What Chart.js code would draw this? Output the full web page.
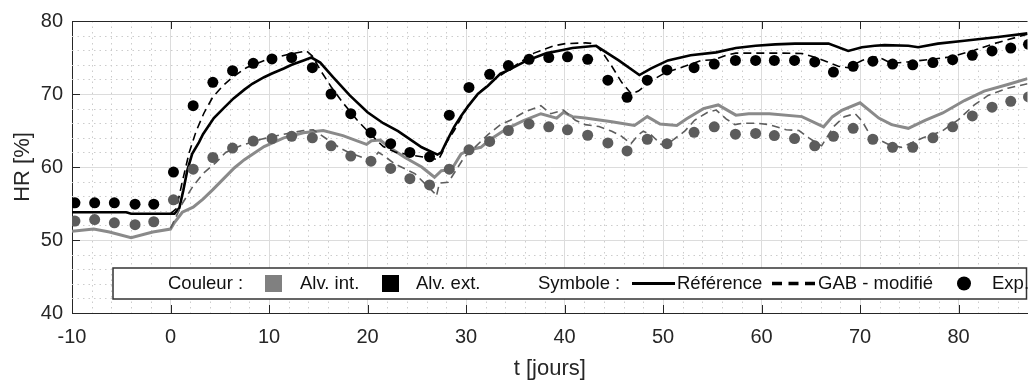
<!DOCTYPE html>
<html lang="fr">
<head>
<meta charset="utf-8">
<title>HR - alvéoles</title>
<script src="https://cdn.jsdelivr.net/npm/chart.js@4.4.0/dist/chart.umd.min.js"></script>
<style>
  html, body { margin: 0; padding: 0; background: #fff; overflow: hidden; }
  #graphe { display: block; }
</style>
</head>
<body>
<canvas id="graphe" width="1033" height="382"></canvas>
<script>
// ===================================================================
// Données (t en jours, HR en %)
// ===================================================================

// Axes
const xMin = -10, xMax = 87;
const yMin = 40, yMax = 80;
const xTicks = [-10, 0, 10, 20, 30, 40, 50, 60, 70, 80];
const yTicks = [40, 50, 60, 70, 80];

// Légende
const legendeCouleurs = ['Alv. int.', 'Alv. ext.'];
const legendeSymboles = ['Référence', 'GAB - modifié', 'Exp.'];

// Points expérimentaux (mêmes instants pour les deux alvéoles)
const tExp = [-9.7, -7.7, -5.7, -3.6, -1.7, 0.3, 2.3, 4.3, 6.3, 8.4,
    10.3, 12.3, 14.4, 16.3, 18.3, 20.35, 22.35, 24.3, 26.3, 28.3,
    30.3, 32.4, 34.3, 36.4, 38.4, 40.3, 42.35, 44.4, 46.35, 48.4,
    50.4, 53.15, 55.2, 57.35, 59.4, 61.3, 63.35, 65.4, 67.3, 69.3,
    71.3, 73.3, 75.35, 77.4, 79.4, 81.4, 83.4, 85.3, 87.1];
const hrExpExt = [55.1, 55.1, 55.1, 54.9, 54.9, 59.3, 68.4, 71.6, 73.2, 74.2,
    74.8, 75.0, 73.6, 70.0, 67.3, 64.7, 63.2, 62.0, 61.4, 67.1,
    70.9, 72.7, 73.9, 74.75, 75.0, 75.1, 74.75, 71.9, 69.55, 71.9,
    73.3, 73.6, 74.1, 74.6, 74.6, 74.6, 74.6, 74.4, 73.0, 73.8,
    74.5, 74.1, 74.0, 74.3, 74.7, 75.3, 75.9, 76.3, 76.8];
const hrExpInt = [52.6, 52.8, 52.35, 52.1, 52.5, 55.5, 59.7, 61.3, 62.6, 63.55,
    63.9, 64.2, 64.0, 62.9, 61.5, 60.8, 59.8, 58.4, 57.55, 59.7,
    62.35, 63.5, 65.0, 65.9, 65.5, 65.1, 64.35, 63.3, 62.2, 63.8,
    63.2, 64.75, 65.5, 64.5, 64.6, 64.3, 63.9, 62.9, 64.2, 65.3,
    63.8, 62.7, 62.7, 64.0, 65.5, 67.0, 68.2, 69.0, 69.6];

// Référence - alvéole extérieure
const tRefExt = [-10, -4.5, -4, 0.4, 0.9, 1.3, 1.7, 2.2, 2.9, 3.3,
    4.4, 5.5, 6.4, 7.5, 8.3, 9.5, 10.3, 11.5, 12.3, 13.5,
    14.3, 15.2, 16.5, 18.2, 20.0, 21.6, 23.1, 24.1, 25.5, 27.1,
    27.5, 28.0, 28.8, 29.5, 30.2, 31.2, 32.2, 33.5, 34.2, 36.2,
    38.2, 39.7, 40.8, 43.2, 45.5, 47.6, 48.8, 50.5, 52.8, 55.4,
    57.4, 59.4, 61.4, 63.4, 66.8, 68.8, 70.2, 71.5, 72.5, 74.9,
    75.9, 77.9, 80.6, 84.0, 87.0];
const hrRefExt = [53.8, 53.8, 53.6, 53.6, 54.4, 56.8, 59.5, 61.8, 63.4, 64.5,
    66.7, 68.2, 69.4, 70.6, 71.4, 72.3, 72.8, 73.5, 74.0, 74.6,
    75.0, 74.3, 72.3, 69.8, 67.5, 66.0, 64.9, 64.0, 62.7, 61.7,
    62.0, 63.4, 65.5, 67.0, 68.3, 70.0, 71.1, 72.8, 73.2, 74.6,
    75.6, 76.0, 76.3, 76.6, 74.6, 72.6, 73.5, 74.6, 75.3, 75.7,
    76.3, 76.6, 76.8, 76.9, 76.9, 75.9, 76.4, 76.6, 76.7, 76.6,
    76.4, 76.9, 77.3, 77.8, 78.3];

// GAB modifié - alvéole extérieure
const tGabExt = [0, 0.6, 1.2, 1.9, 2.6, 3.4, 4.3, 5.3, 6.3, 7.7,
    9.7, 11.9, 13.8, 14.4, 15.2, 16.3, 17.5, 18.9, 20.3, 21.6,
    22.9, 24.5, 26.5, 27.2, 27.6, 28.0, 28.8, 30.2, 31.5, 32.9,
    34.9, 36.9, 38.9, 40.1, 42.1, 43.0, 43.8, 44.8, 45.8, 46.8,
    47.5, 48.8, 50.2, 52.2, 53.9, 55.2, 56.4, 57.4, 62.1, 64.1,
    65.5, 66.7, 67.8, 68.8, 70.2, 71.5, 72.3, 73.2, 74.9, 76.9,
    79.3, 81.6, 83.6, 87.0];
const hrGabExt = [53.6, 54.3, 58.0, 62.0, 64.9, 67.4, 69.6, 71.1, 72.3, 73.6,
    74.7, 75.4, 75.9, 75.2, 73.3, 71.0, 68.8, 66.5, 64.5, 62.8,
    62.0, 61.6, 61.2, 61.0, 62.0, 63.3, 65.0, 68.4, 70.4, 72.0,
    73.8, 75.6, 76.6, 76.9, 77.0, 76.9, 75.8, 73.8, 71.6, 70.0,
    70.4, 71.8, 72.9, 73.8, 74.6, 74.7, 75.3, 75.6, 75.6, 75.55,
    75.0, 74.4, 73.8, 73.6, 74.6, 75.1, 74.8, 74.2, 74.4, 74.7,
    75.1, 76.0, 76.9, 78.2];

// Référence - alvéole intérieure
const tRefInt = [-10, -7.8, -6.2, -4, -1.8, 0, 0.4, 1.2, 2.3, 3.3,
    4.3, 5.4, 6.5, 7.5, 9.5, 11.5, 13.5, 15.5, 17.5, 19.9,
    20.4, 21.3, 22.1, 23.8, 25.5, 26.8, 27.5, 28.5, 29.5, 30.5,
    31.5, 32.5, 34.2, 35.9, 37.6, 39.2, 39.9, 40.8, 42.1, 44.8,
    47.1, 48.4, 49.7, 51.4, 52.4, 54.1, 55.6, 57.4, 58.7, 60.8,
    64.1, 66.3, 67.2, 68.2, 70.0, 71.9, 73.2, 74.9, 76.6, 78.4,
    80.6, 82.6, 85.0, 87.0];
const hrRefInt = [51.2, 51.5, 51.1, 50.3, 51.1, 51.5, 52.4, 53.8, 54.5, 55.6,
    56.9, 58.4, 59.9, 61.0, 62.8, 64.0, 64.7, 65.0, 64.3, 63.1,
    63.6, 63.7, 62.8, 61.3, 60.0, 58.6, 59.5, 59.6, 61.8, 62.4,
    62.7, 63.8, 65.3, 66.4, 67.3, 66.7, 67.5, 66.9, 66.7, 66.2,
    65.7, 66.9, 65.9, 65.7, 66.6, 68.0, 68.5, 67.1, 67.3, 67.3,
    66.9, 65.5, 66.9, 67.8, 68.8, 66.7, 65.8, 65.3, 66.4, 67.4,
    69.1, 70.4, 71.3, 72.1];

// GAB modifié - alvéole intérieure
const tGabInt = [0, 0.5, 1.2, 2.25, 3.3, 4.6, 5.6, 7.1, 9.2, 11.2,
    13.5, 14.5, 15.9, 17.2, 18.1, 19.5, 20.4, 21.1, 21.6, 22.8,
    24.8, 26.8, 27.0, 27.3, 28.2, 29.8, 31.2, 32.2, 33.5, 34.5,
    35.9, 37.6, 38.6, 39.9, 41.1, 42.1, 43.5, 44.8, 45.8, 46.75,
    47.5, 48.0, 48.8, 49.8, 50.3, 51.1, 52.2, 53.2, 54.6, 55.4,
    56.4, 57.3, 58.1, 59.4, 60.8, 62.5, 63.8, 64.8, 65.8, 66.1,
    66.6, 67.3, 68.4, 69.5, 70.2, 70.8, 71.5, 72.9, 74.2, 76.4,
    78.3, 80.0, 81.6, 83.0, 85.0, 87.0];
const hrGabInt = [51.6, 53.0, 55.0, 57.3, 59.1, 60.6, 62.0, 62.9, 63.8, 64.4,
    65.0, 65.1, 63.8, 62.6, 62.0, 61.3, 60.9, 62.0, 61.6, 60.4,
    59.1, 56.4, 56.0, 57.8, 57.9, 61.3, 63.1, 64.4, 65.8, 66.4,
    67.5, 68.4, 67.3, 67.8, 66.4, 65.8, 65.55, 64.9, 64.2, 63.2,
    64.4, 64.9, 64.4, 63.1, 62.9, 63.8, 64.9, 66.4, 67.55, 67.8,
    66.6, 65.8, 66.0, 66.0, 65.8, 65.1, 65.0, 64.0, 63.1, 62.9,
    64.0, 65.5, 66.9, 67.3, 66.3, 64.9, 64.0, 63.1, 62.7, 64.0,
    64.9, 66.5, 68.5, 69.8, 70.8, 71.4];

// Couleurs
const NOIR = '#000000';
const GRIS_LIGNE = '#8a8a8a';
const GRIS_TIRETS = '#5e5e5e';
const GRIS_POINTS = '#5c5c5c';
const GRIS_LEGENDE = '#808080';
const TEXTE = '#262626';
const POLICE = "'Liberation Sans', Arial, Helvetica, sans-serif";

const pts = (t, v) => t.map((x, i) => ({ x, y: v[i] }));

// Grille secondaire en pointillés (pas de 2)
const grilleMineure = {
    id: 'grilleMineure',
    beforeDatasetsDraw(chart) {
        const { ctx, chartArea: a, scales: { x, y } } = chart;
        ctx.save();
        ctx.strokeStyle = '#cccccc';
        ctx.lineWidth = 1;
        ctx.setLineDash([1.5, 4]);
        ctx.beginPath();
        for (let t = xMin + 2; t < xMax; t += 2) {
            if (t % 10 === 0) continue;
            const px = Math.round(x.getPixelForValue(t)) + 0.5;
            ctx.moveTo(px, a.top);
            ctx.lineTo(px, a.bottom);
        }
        for (let v = yMin + 2; v < yMax; v += 2) {
            if (v % 10 === 0) continue;
            const py = Math.round(y.getPixelForValue(v)) + 0.5;
            ctx.moveTo(a.left, py);
            ctx.lineTo(a.right, py);
        }
        ctx.stroke();
        ctx.restore();
    }
};

// Cadre du haut + graduations intérieures (style MATLAB)
const cadreAxes = {
    id: 'cadreAxes',
    afterDatasetsDraw(chart) {
        const { ctx, chartArea: a, scales: { x, y } } = chart;
        ctx.save();
        ctx.strokeStyle = TEXTE;
        ctx.lineWidth = 1;
        ctx.beginPath();
        ctx.moveTo(a.left, a.top + 0.5);
        ctx.lineTo(a.right, a.top + 0.5);
        xTicks.forEach(v => {
            const px = Math.round(x.getPixelForValue(v)) + 0.5;
            ctx.moveTo(px, a.top);
            ctx.lineTo(px, a.top + 8);
            ctx.moveTo(px, a.bottom);
            ctx.lineTo(px, a.bottom - 8);
        });
        yTicks.forEach(v => {
            const py = Math.round(y.getPixelForValue(v)) + 0.5;
            ctx.moveTo(a.left, py);
            ctx.lineTo(a.left + 8, py);
        });
        ctx.stroke();
        ctx.restore();
    }
};

// Légende encadrée en bas du graphique
const legendeCadre = {
    id: 'legendeCadre',
    afterDatasetsDraw(chart) {
        const { ctx, chartArea: a } = chart;
        const x0 = a.left + 41;
        const y0 = a.bottom - 45;
        const w = a.right - 1 - x0;
        const h = 31;
        const cy = y0 + h / 2;

        ctx.save();
        ctx.fillStyle = '#ffffff';
        ctx.fillRect(x0, y0, w, h);
        ctx.strokeStyle = '#333333';
        ctx.lineWidth = 1.5;
        ctx.strokeRect(x0, y0, w, h);

        ctx.font = '18.5px ' + POLICE;
        ctx.textBaseline = 'middle';
        ctx.fillStyle = '#111111';
        ctx.fillText('Couleur :', x0 + 55, cy);

        ctx.fillStyle = GRIS_LEGENDE;
        ctx.fillRect(x0 + 152, cy - 8.5, 17, 17);
        ctx.fillStyle = '#111111';
        ctx.fillText(legendeCouleurs[0], x0 + 187, cy);

        ctx.fillStyle = NOIR;
        ctx.fillRect(x0 + 269, cy - 8.5, 17, 17);
        ctx.fillStyle = '#111111';
        ctx.fillText(legendeCouleurs[1], x0 + 303, cy);

        ctx.fillText('Symbole :', x0 + 425, cy);

        ctx.strokeStyle = NOIR;
        ctx.lineWidth = 3;
        ctx.beginPath();
        ctx.moveTo(x0 + 519, cy);
        ctx.lineTo(x0 + 562, cy);
        ctx.stroke();
        ctx.fillText(legendeSymboles[0], x0 + 564, cy);

        ctx.lineWidth = 3.5;
        ctx.setLineDash([10, 6.5]);
        ctx.beginPath();
        ctx.moveTo(x0 + 659, cy);
        ctx.lineTo(x0 + 702, cy);
        ctx.stroke();
        ctx.setLineDash([]);
        ctx.fillText(legendeSymboles[1], x0 + 705, cy);

        ctx.fillStyle = NOIR;
        ctx.beginPath();
        ctx.arc(x0 + 851, cy, 7, 0, Math.PI * 2);
        ctx.fill();
        ctx.fillStyle = '#111111';
        ctx.fillText(legendeSymboles[2], x0 + 879, cy);
        ctx.restore();
    }
};

function initGraphe() {
    Chart.defaults.font.family = POLICE;
    Chart.defaults.color = TEXTE;

    const ctx = document.getElementById('graphe').getContext('2d');
    new Chart(ctx, {
        type: 'scatter',
        data: {
            datasets: [
                { // Exp. - alvéole extérieure
                    label: 'Exp. ext.',
                    data: pts(tExp, hrExpExt),
                    backgroundColor: NOIR,
                    borderWidth: 0,
                    pointRadius: 5.5
                },
                { // Exp. - alvéole intérieure
                    label: 'Exp. int.',
                    data: pts(tExp, hrExpInt),
                    backgroundColor: GRIS_POINTS,
                    borderWidth: 0,
                    pointRadius: 5.5
                },
                {
                    label: 'GAB ext.',
                    data: pts(tGabExt, hrGabExt),
                    showLine: true,
                    borderColor: NOIR,
                    borderWidth: 1.6,
                    borderDash: [8, 5],
                    pointRadius: 0
                },
                {
                    label: 'GAB int.',
                    data: pts(tGabInt, hrGabInt),
                    showLine: true,
                    borderColor: GRIS_TIRETS,
                    borderWidth: 1.6,
                    borderDash: [8, 5],
                    pointRadius: 0
                },
                {
                    label: 'Réf. ext.',
                    data: pts(tRefExt, hrRefExt),
                    showLine: true,
                    borderColor: NOIR,
                    borderWidth: 2.6,
                    pointRadius: 0
                },
                {
                    label: 'Réf. int.',
                    data: pts(tRefInt, hrRefInt),
                    showLine: true,
                    borderColor: GRIS_LIGNE,
                    borderWidth: 3,
                    pointRadius: 0
                }
            ]
        },
        options: {
            responsive: false,
            animation: false,
            layout: { padding: { top: 13, right: 0, bottom: 0, left: 0 } },
            plugins: {
                legend: { display: false },
                tooltip: { enabled: false }
            },
            scales: {
                x: {
                    type: 'linear',
                    min: xMin,
                    max: xMax,
                    afterBuildTicks: (axe) => { axe.ticks = xTicks.map(v => ({ value: v })); },
                    afterFit: (axe) => { axe.height = 69; },
                    ticks: { font: { size: 20 }, color: TEXTE, padding: 12, maxRotation: 0, autoSkip: false },
                    grid: { color: '#dcdcdc', lineWidth: 1, drawTicks: false },
                    border: { color: TEXTE, width: 1 },
                    title: { display: true, text: 't [jours]', font: { size: 22 }, color: TEXTE, padding: { top: 0, bottom: 0 } }
                },
                y: {
                    min: yMin,
                    max: yMax,
                    afterBuildTicks: (axe) => { axe.ticks = yTicks.map(v => ({ value: v })); },
                    afterFit: (axe) => { axe.width = 72; },
                    ticks: { font: { size: 20 }, color: TEXTE, padding: 9 },
                    grid: { color: '#dcdcdc', lineWidth: 1, drawTicks: false },
                    border: { color: TEXTE, width: 1 },
                    title: { display: true, text: 'HR [%]', font: { size: 22 }, color: TEXTE, padding: { top: 10, bottom: 0 } }
                }
            }
        },
        plugins: [grilleMineure, cadreAxes, legendeCadre]
    });
}

document.addEventListener('DOMContentLoaded', initGraphe);
</script>
</body>
</html>
